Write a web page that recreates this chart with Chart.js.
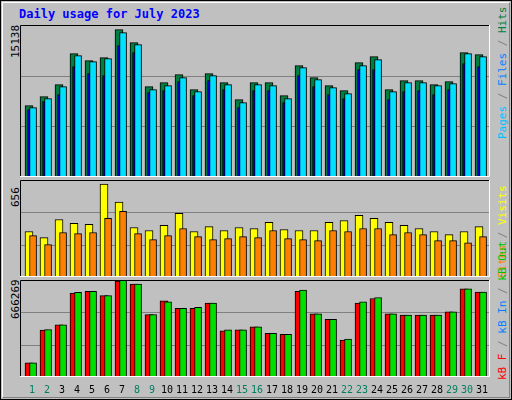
<!DOCTYPE html>
<html><head><meta charset="utf-8">
<script src="https://cdn.jsdelivr.net/npm/chart.js@4"></script>
<style>
body{margin:0;background:#fff;}
#f{position:absolute;left:0;top:0;width:510px;height:398px;border:1px solid #000;background:#c0c0c0;}
#in{position:absolute;left:1px;top:1px;width:506px;height:394px;border-top:1px solid #fff;border-left:1px solid #fff;border-right:1px solid #808080;border-bottom:1px solid #808080;}
canvas{position:absolute;}
.t{position:absolute;font-family:"DejaVu Sans Mono",monospace;white-space:nowrap;}
.r{transform:rotate(-90deg);transform-origin:0 0;}
</style></head><body>
<div id="f"><div id="in"></div></div>
<div class="t" style="left:19px;top:7px;color:#0000ff;font-weight:bold;font-size:12px;">Daily usage for July 2023</div>
<div class="t r" style="left:9px;top:58px;font-size:11px;color:#000;">15138</div>
<div class="t r" style="left:9px;top:207px;font-size:11px;color:#000;">656</div>
<div class="t r" style="left:9px;top:319px;font-size:11px;color:#000;">666269</div>
<div class="t r" style="left:496px;top:139px;font-size:11px;"><span style="color:#00c0ff">Pages</span><span style="color:#808080"> / </span><span style="color:#0080ff">Files</span><span style="color:#808080"> / </span><span style="color:#008040">Hits</span></div>
<div class="t r" style="left:496px;top:278px;font-size:11px;"><span style="color:#ff8000">Sites</span><span style="color:#808080"> / </span><span style="color:#ffff00">Visits</span></div>
<div class="t r" style="left:496px;top:380px;font-size:11px;"><span style="color:#ff0000">kB F</span><span style="color:#808080"> / </span><span style="color:#0080ff">kB In</span><span style="color:#808080"> / </span><span style="color:#00c000">kB Out</span></div>
<canvas id="c1" style="left:20px;top:25px"></canvas>
<canvas id="c2" style="left:20px;top:180px"></canvas>
<canvas id="c3" style="left:20px;top:280px"></canvas>
<script>
const days=[1,2,3,4,5,6,7,8,9,10,11,12,13,14,15,16,17,18,19,20,21,22,23,24,25,26,27,28,29,30,31];
const weekendDays=[1,2,8,9,15,16,22,23,29,30];
const hits=[7329,8254,9487,12672,11953,12261,15138,13802,9281,9692,10514,8973,10617,9692,7946,9692,9692,8357,11439,10206,9384,8870,11747,12364,8973,9898,9898,9487,9795,12775,12569];
const files=[7124,8049,9282,12467,11850,12159,14830,13597,8973,9384,10206,8768,10412,9487,7638,9487,9384,8049,11234,10001,9179,8563,11440,12056,8768,9693,9693,9384,9590,12673,12364];
const pages=[6918,7740,8460,11336,10617,10412,13494,12775,8665,8870,9795,8357,9898,8973,7124,8870,8870,7637,10412,9282,8460,8049,11028,11028,7946,8768,8870,8460,8973,11645,11336];
const visits=[321,278,406,378,371,656,528,349,328,364,449,321,356,328,349,342,385,335,328,328,385,399,435,414,385,364,342,321,299,321,356];
const sites=[292,228,314,306,314,414,463,306,264,292,342,285,264,271,285,278,328,271,264,257,328,321,342,342,299,314,299,257,257,242,285];
const kbOut=[102059,340621,374648,606766,614062,583670,701000,666269,447572,538718,492512,500208,530589,337976,337976,359823,313493,306197,622574,452412,413508,272150,539033,570147,452412,444706,444706,444706,468018,632358,607942];
const kbF=[102059,336633,374648,601294,614062,583670,688000,666269,447572,546014,492512,492512,530589,330680,337976,359823,313493,306197,614062,452412,413508,264854,530589,562851,452412,444706,444706,444706,468018,632358,607942];

const XMIN=0.4,XMAX=31.733;
function pts(arr,off){return arr.map((v,i)=>({x:days[i]+off,y:v}));}
const deco={id:'deco',
 beforeDatasetsDraw(ch){const c=ch.ctx,a=ch.chartArea,y=ch.scales.y,m=ch.options.scales.y.max;
  c.save();c.strokeStyle='#808080';c.lineWidth=1;
  for(let k=1;k<3;k++){const py=Math.round(y.getPixelForValue(m*k/3))+0.5;c.beginPath();c.moveTo(a.left,py);c.lineTo(a.right,py);c.stroke();}
  c.restore();},
 afterDraw(ch){const c=ch.ctx,a=ch.chartArea;c.save();c.lineWidth=1;
  c.strokeStyle='#000';c.beginPath();c.moveTo(a.left+0.5,a.bottom);c.lineTo(a.left+0.5,a.top+0.5);c.lineTo(a.right,a.top+0.5);c.stroke();
  c.strokeStyle='#fff';c.beginPath();c.moveTo(a.right-0.5,a.top);c.lineTo(a.right-0.5,a.bottom-0.5);c.lineTo(a.left,a.bottom-0.5);c.stroke();
  if(ch.canvas.id==='c3'){c.font='10px "DejaVu Sans Mono"';c.textAlign='center';c.textBaseline='middle';
   days.forEach(d=>{c.fillStyle=weekendDays.includes(d)?'#008060':'#000';c.fillText(String(d),ch.scales.x.getPixelForValue(d+0.2),a.bottom+13);});}
  c.restore();}};
function mk(id,w,h,padB,ymax,sets){
 const cv=document.getElementById(id);cv.width=w;cv.height=h;
 new Chart(cv,{type:'bar',data:{datasets:sets.map(s=>({data:s.d,backgroundColor:s.c,borderColor:'#000',borderWidth:1,borderSkipped:false,barThickness:s.w,order:s.o,grouped:false}))},
 options:{responsive:false,animation:false,devicePixelRatio:1,layout:{padding:{left:0,right:0,top:0,bottom:padB}},
  plugins:{legend:{display:false},tooltip:{enabled:false}},
  scales:{x:{type:'linear',min:XMIN,max:XMAX,offset:false,bounds:'ticks',display:false},y:{min:0,max:ymax,display:false}}},plugins:[deco]});}
mk('c1',470,152,0,15610,[{d:pts(hits,0),c:'#008040',w:8,o:3},{d:pts(pages,0.07),c:'#0000ff',w:5,o:2},{d:pts(files,0.27),c:'#00e0ff',w:7,o:1}]);
mk('c2',470,97,0,684.5,[{d:pts(visits,0),c:'#ffff00',w:8,o:2},{d:pts(sites,0.27),c:'#ff8000',w:7,o:1}]);
mk('c3',470,120,23,695428,[{d:pts(kbF,0),c:'#ff0000',w:8,o:2},{d:pts(kbOut,0.27),c:'#00e000',w:7,o:1}]);
</script></body></html>
